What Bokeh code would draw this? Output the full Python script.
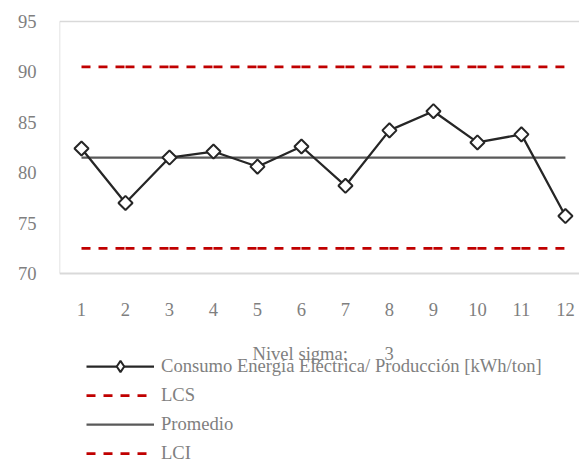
from bokeh.plotting import figure
from bokeh.models import Range1d, FixedTicker, Legend, LegendItem, Label
from bokeh.embed import file_html
from bokeh.resources import INLINE
import math

# ---- data ----
muestras = [1, 2, 3, 4, 5, 6, 7, 8, 9, 10, 11, 12]
consumo = [82.4, 77.0, 81.5, 82.1, 80.6, 82.6, 78.7, 84.2, 86.1, 83.0, 83.8, 75.7]
promedio_val = 81.5
lcs_val = 90.5
lci_val = 72.5
sigma = 3
y_ticks = [70, 75, 80, 85, 90, 95]
y_min, y_max = 70, 95

lcs = [lcs_val] * len(muestras)
lci = [lci_val] * len(muestras)
promedio = [promedio_val] * len(muestras)

FONT = "Liberation Serif"
GRAY = "#7f7f7f"
FS = "18.6px"
BORDER = "#d9d9d9"
RED = "#c00000"

X0, X1 = 0.5, 12.32
p = figure(width=579, height=462, output_backend="svg", toolbar_location=None,
           x_range=Range1d(X0, X1), y_range=Range1d(51.25, 97.083),
           min_border_left=59, min_border_right=0, min_border_top=0,
           min_border_bottom=0)
p.outline_line_color = None
p.xgrid.grid_line_color = None
p.ygrid.grid_line_color = None

for ax in (p.xaxis, p.yaxis):
    ax.axis_line_color = None
    ax.major_tick_line_color = None
    ax.minor_tick_line_color = None
    ax.major_label_text_font = FONT
    ax.major_label_text_font_size = FS
    ax.major_label_text_color = GRAY
p.xaxis.ticker = FixedTicker(ticks=muestras)
p.xaxis.fixed_location = y_min
p.yaxis.ticker = FixedTicker(ticks=y_ticks)
p.xaxis.major_label_standoff = 24
p.yaxis.major_label_standoff = 17

# plot-area border (right side lies outside the window)
p.segment(x0=[X0, X0], y0=[y_max, y_min], x1=[X1 + 1, X1 + 1], y1=[y_max, y_min],
          line_color=BORDER, line_width=[1.5, 2])
p.segment(x0=[X0], y0=[y_min], x1=[X0], y1=[y_max], line_color=BORDER, line_width=1.5)


def pieces(xs, ys):
    # one piece per interval, so the dash pattern restarts at every point (as in Excel)
    return ([[xs[i], xs[i + 1]] for i in range(len(xs) - 1)],
            [[ys[i], ys[i + 1]] for i in range(len(ys) - 1)])


xs_s, ys_s = pieces(muestras, lcs)
r_lcs = p.multi_line(xs_s, ys_s, line_color=RED, line_width=2.75, line_dash="9 8")
xs_i, ys_i = pieces(muestras, lci)
r_lci = p.multi_line(xs_i, ys_i, line_color=RED, line_width=2.75, line_dash="9 8")
r_prom = p.line(muestras, promedio, line_color="#595959", line_width=2.25)
r_line = p.line(muestras, consumo, line_color="#262626", line_width=2.25)
r_pts = p.scatter(muestras, consumo, marker="square", angle=math.pi / 4, size=10,
                  fill_color="white", line_color="#262626", line_width=2)
# legend-only marker (the legend does not rotate markers); NaN point is not drawn
nan = float("nan")
r_leg = p.scatter(x=[nan], y=[nan], marker="diamond", fill_color="white",
                  line_color="#262626", line_width=2)

legend = Legend(items=[
    LegendItem(label="Consumo Energía Eléctrica/ Producción [kWh/ton]", renderers=[r_line, r_leg]),
    LegendItem(label="LCS", renderers=[r_lcs]),
    LegendItem(label="Promedio", renderers=[r_prom]),
    LegendItem(label="LCI", renderers=[r_lci]),
], location=(27, -5))
legend.padding = 0
legend.margin = 0
legend.border_line_color = None
legend.background_fill_alpha = 0
legend.glyph_width = 68
legend.glyph_height = 28
legend.label_height = 28
legend.spacing = 1
legend.label_standoff = 7
legend.label_text_font = FONT
legend.label_text_font_size = FS
legend.label_text_color = GRAY
p.add_layout(legend, "center")

p.add_layout(Label(x=4.886, y=62.05, text="Nivel sigma:", text_font=FONT,
                   text_font_size=FS, text_color=GRAY, text_baseline="alphabetic"))
p.add_layout(Label(x=7.89, y=62.05, text=str(sigma), text_font=FONT,
                   text_font_size=FS, text_color=GRAY, text_baseline="alphabetic"))

open("out.html", "w").write(file_html(p, INLINE))
